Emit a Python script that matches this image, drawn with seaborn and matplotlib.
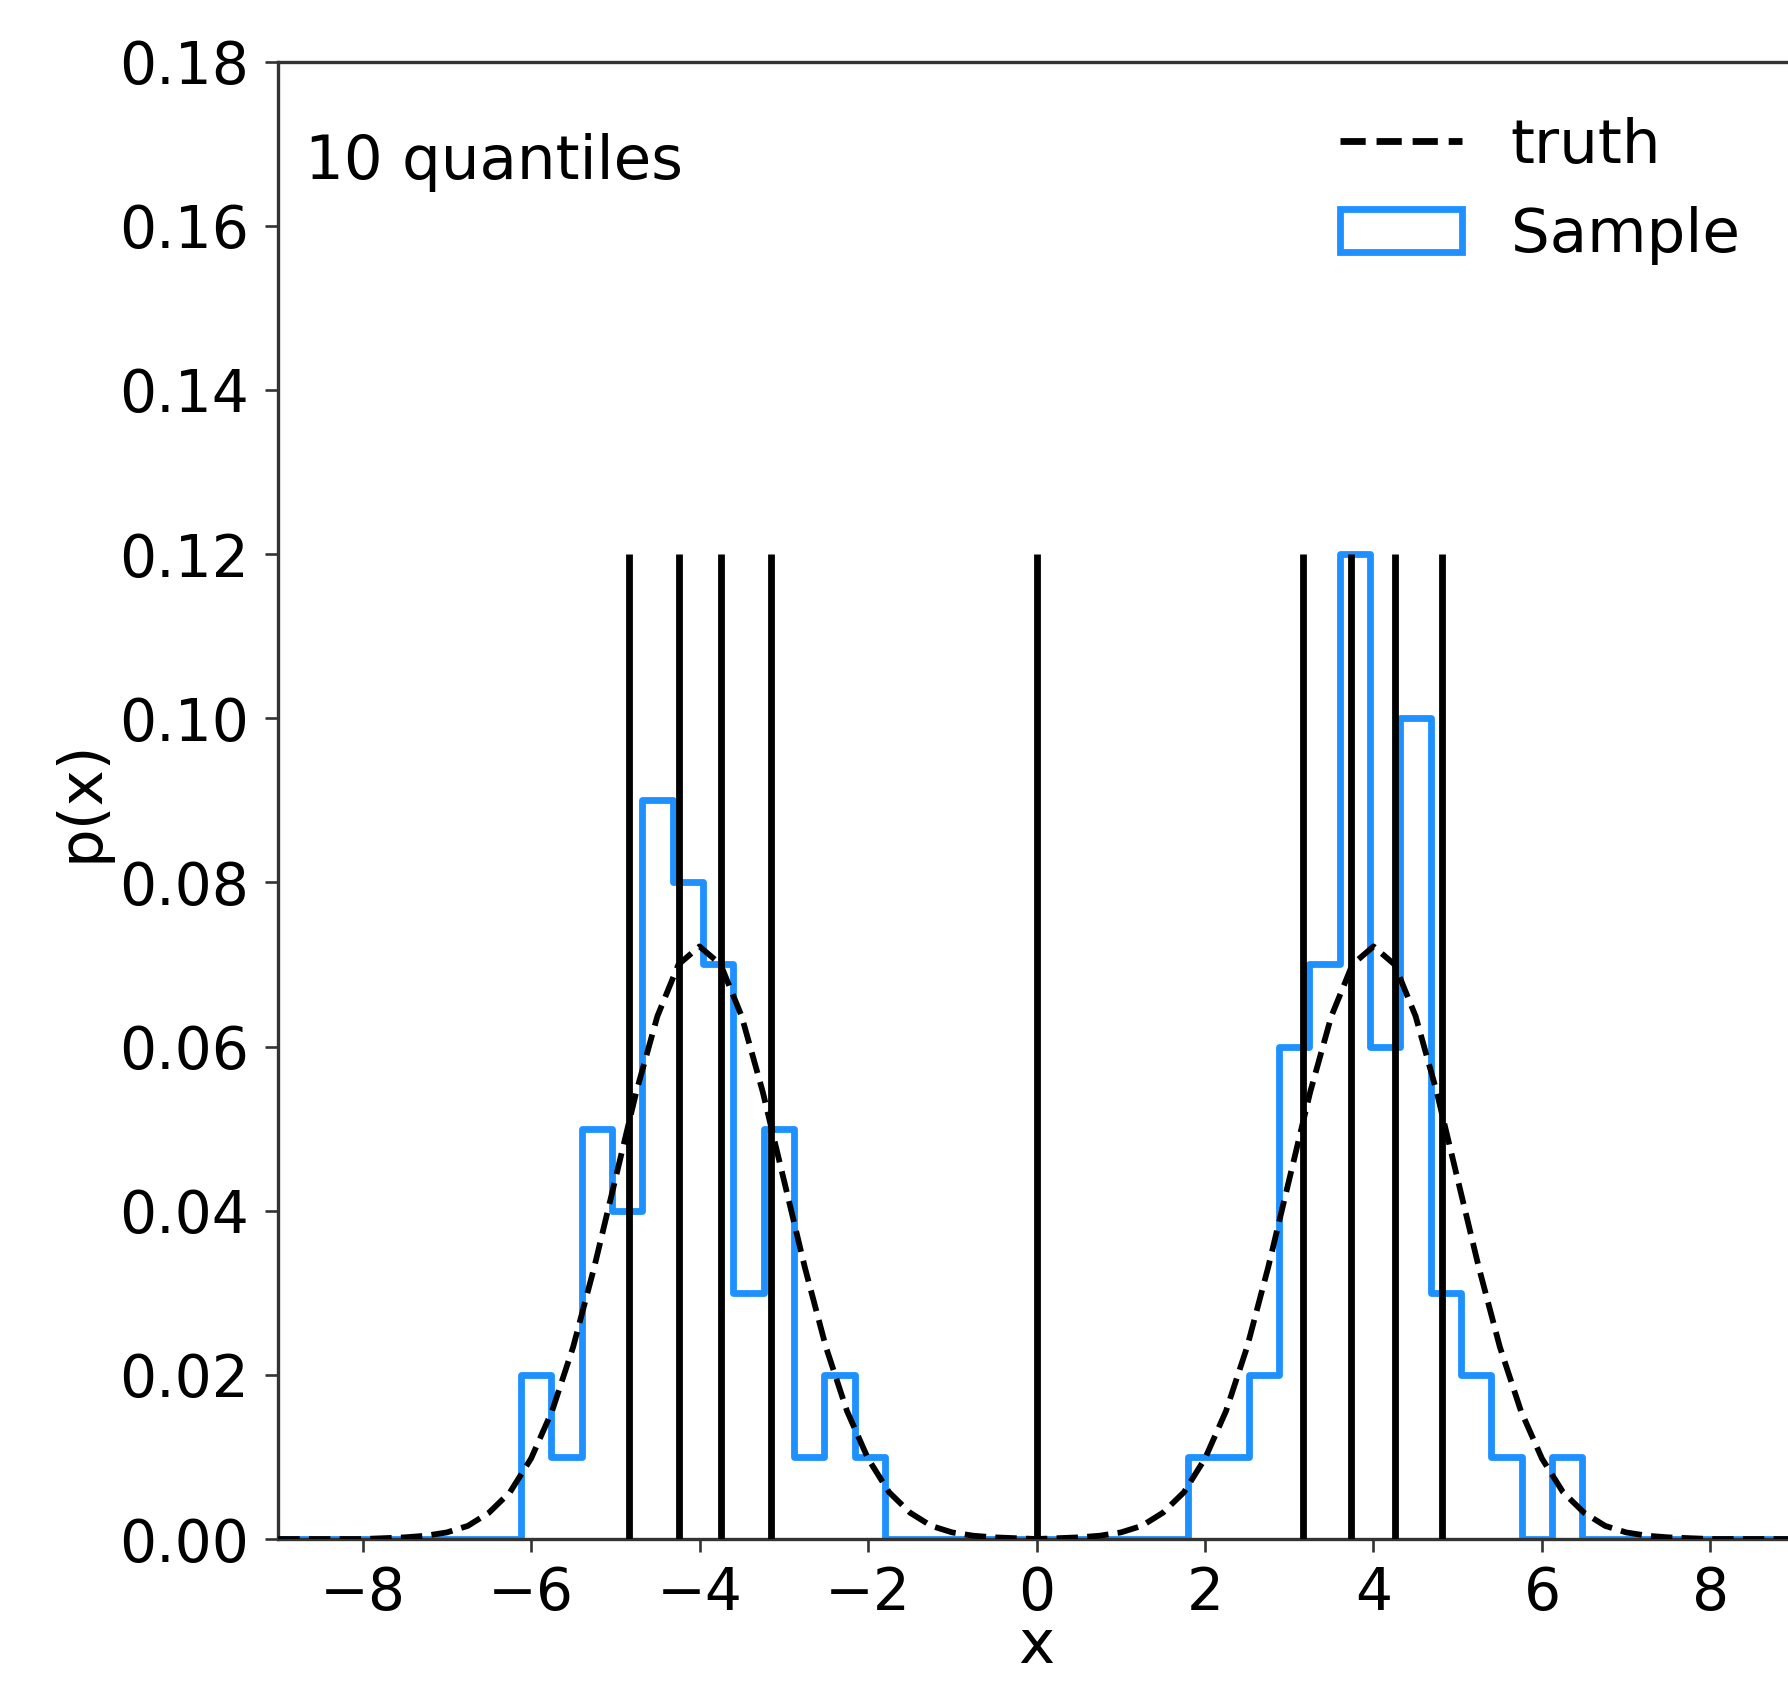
import numpy as np
import pandas as pd
import matplotlib
matplotlib.use("Agg")
import matplotlib.pyplot as plt
import seaborn as sns
from matplotlib.patches import Patch
from matplotlib.lines import Line2D
from matplotlib.ticker import FormatStrFormatter

# ---------------- data ----------------
# Sample histogram: 50 equal bins over [-9, 9], bar heights (fraction of samples)
sample_bin_range = (-9.0, 9.0)
sample_n_bins = 50
sample_heights = [0, 0, 0, 0, 0, 0, 0, 0,
                  0.02, 0.01, 0.05, 0.04, 0.09, 0.08, 0.07, 0.03, 0.05, 0.01, 0.02, 0.01,
                  0, 0, 0, 0, 0, 0, 0, 0, 0, 0,
                  0.01, 0.01, 0.02, 0.06, 0.07, 0.12, 0.06, 0.10, 0.03, 0.02, 0.01, 0.00, 0.01,
                  0, 0, 0, 0, 0, 0, 0]

# Truth curve, read every 0.25 from -9 to 9
truth_x = [-9.0, -8.75, -8.5, -8.25, -8.0, -7.75, -7.5, -7.25, -7.0, -6.75, -6.5, -6.25,
           -6.0, -5.75, -5.5, -5.25, -5.0, -4.75, -4.5, -4.25, -4.0, -3.75, -3.5, -3.25,
           -3.0, -2.75, -2.5, -2.25, -2.0, -1.75, -1.5, -1.25, -1.0, -0.75, -0.5, -0.25,
           0.0, 0.25, 0.5, 0.75, 1.0, 1.25, 1.5, 1.75, 2.0, 2.25, 2.5, 2.75,
           3.0, 3.25, 3.5, 3.75, 4.0, 4.25, 4.5, 4.75, 5.0, 5.25, 5.5, 5.75,
           6.0, 6.25, 6.5, 6.75, 7.0, 7.25, 7.5, 7.75, 8.0, 8.25, 8.5, 8.75, 9.0]
truth_y = [0.0000, 0.0000, 0.0000, 0.0000, 0.0000, 0.0001, 0.0002, 0.0004, 0.0008, 0.0016, 0.0032, 0.0057,
           0.0098, 0.0156, 0.0234, 0.0331, 0.0438, 0.0545, 0.0637, 0.0700, 0.0722, 0.0700, 0.0637, 0.0545,
           0.0438, 0.0331, 0.0234, 0.0156, 0.0098, 0.0057, 0.0032, 0.0016, 0.0008, 0.0004, 0.0002, 0.0001,
           0.0000, 0.0001, 0.0002, 0.0004, 0.0008, 0.0016, 0.0032, 0.0057, 0.0098, 0.0156, 0.0234, 0.0331,
           0.0438, 0.0545, 0.0637, 0.0700, 0.0722, 0.0700, 0.0637, 0.0545, 0.0438, 0.0331, 0.0234, 0.0156,
           0.0098, 0.0057, 0.0032, 0.0016, 0.0008, 0.0004, 0.0002, 0.0001, 0.0000, 0.0000, 0.0000, 0.0000, 0.0000]

# Quantile boundaries (10 quantiles -> 9 lines)
quantile_x = [-4.84, -4.24, -3.75, -3.15, 0.0, 3.16, 3.73, 4.25, 4.81]
quantile_top = 0.12

x_ticks = [-8, -6, -4, -2, 0, 2, 4, 6, 8]
y_ticks = [0.00, 0.02, 0.04, 0.06, 0.08, 0.10, 0.12, 0.14, 0.16, 0.18]
x_label = "x"
y_label = "p(x)"
annotation = "10 quantiles"
legend_labels = ["truth", "Sample"]

# ---------------- style ----------------
sns.set_style("ticks")
plt.rcParams["font.family"] = ["DejaVu Sans"]
plt.rcParams["text.color"] = "black"
plt.rcParams["axes.labelcolor"] = "black"

BLUE = "#1E90FF"
SPINE = "#333333"
LW = 4.9
TICK_FS = 42
TEXT_FS = 44

fig = plt.figure(figsize=(17.88, 16.84), dpi=100)
ax = fig.add_axes([0.15565, 0.0861, 0.8481, 0.8773])

# histogram (weights = bar heights at bin centres)
lo, hi = sample_bin_range
width = (hi - lo) / sample_n_bins
centers = lo + width * (np.arange(sample_n_bins) + 0.5)
hist_df = pd.DataFrame({"x": centers, "w": sample_heights})
sns.histplot(data=hist_df, x="x", weights="w", bins=sample_n_bins, binrange=sample_bin_range,
             element="step", fill=False, stat="count", color=BLUE, linewidth=LW, ax=ax, zorder=2)

# truth curve
truth_df = pd.DataFrame({"x": truth_x, "y": truth_y})
sns.lineplot(data=truth_df, x="x", y="y", color="black", linestyle="--", linewidth=LW * 0.85,
             ax=ax, zorder=3, sort=True)

# quantile lines
ax.vlines(quantile_x, 0, quantile_top, colors="black", linewidth=LW, zorder=4)

ax.set_xlim(-9, 9)
ax.set_ylim(0, 0.18)
ax.set_xticks(x_ticks)
ax.set_yticks(y_ticks)
ax.yaxis.set_major_formatter(FormatStrFormatter("%.2f"))

for side in ["left", "bottom", "top", "right"]:
    ax.spines[side].set_linewidth(2.4)
    ax.spines[side].set_color(SPINE)

ax.tick_params(axis="both", which="major", length=9.4, width=1.9, color=SPINE,
               labelsize=TICK_FS, labelcolor="black")
ax.tick_params(axis="y", pad=12)
ax.tick_params(axis="x", pad=9.4)

ax.set_xlabel(x_label, fontsize=TEXT_FS, labelpad=-4)
ax.set_ylabel(y_label, fontsize=TEXT_FS, labelpad=6)

ax.text(0.0175, 0.9204, annotation, transform=ax.transAxes, fontsize=TEXT_FS,
        ha="left", va="baseline", color="black")

truth_handle = Line2D([], [], color="black", linestyle="--", linewidth=LW)
sample_handle = Patch(facecolor="none", edgecolor=BLUE, linewidth=LW)
ax.legend([truth_handle, sample_handle], legend_labels, loc="upper right",
          frameon=False, fontsize=TEXT_FS)

fig.savefig("out.png", dpi=100)
